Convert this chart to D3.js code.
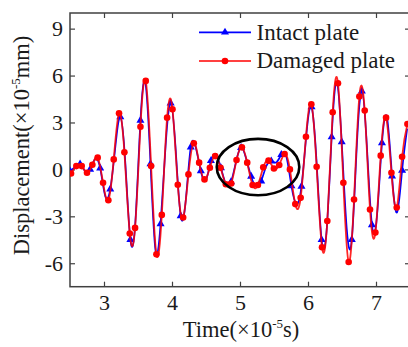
<!DOCTYPE html>
<html>
<head>
<meta charset="utf-8">
<script src="https://cdn.jsdelivr.net/npm/d3@7"></script>
<style>
  html, body { margin: 0; padding: 0; background: #fff; }
  svg { display: block; }
  text { font-family: "Liberation Serif", "Times New Roman", serif; fill: #1a1a1a; }
</style>
</head>
<body>
<svg id="chart" width="408" height="347"></svg>
<script>
// Time axis values (×10^-5 s) and tick labels
const xTicks = [3, 4, 5, 6, 7];
const yTicks = [-6, -3, 0, 3, 6, 9];

// Intact plate: sampled response, a triangle marker on every second sample
const intactTime = [2.5, 2.574, 2.648, 2.722, 2.796, 2.870, 2.944, 3.018, 3.092, 3.166,
  3.240, 3.314, 3.388, 3.462, 3.536, 3.610, 3.684, 3.758, 3.832, 3.906,
  3.980, 4.054, 4.128, 4.202, 4.276, 4.350, 4.424, 4.498, 4.572, 4.646,
  4.720, 4.794, 4.868, 4.942, 5.016, 5.090, 5.164, 5.238, 5.312, 5.386,
  5.460, 5.534, 5.608, 5.682, 5.756, 5.830, 5.904, 5.978, 6.052, 6.126,
  6.200, 6.274, 6.348, 6.422, 6.496, 6.570, 6.644, 6.718, 6.792, 6.866,
  6.940, 7.014, 7.088, 7.162, 7.236, 7.310, 7.384, 7.458];
const intactDisp = [-0.10, 0.15, 0.33, -0.10, 0.00, 0.65, 0.08, -1.70, -1.26, 1.40,
  3.35, 0.40, -4.49, -3.30, 3.13, 5.50, 0.35, -5.20, -3.48, 1.50,
  4.23, 1.30, -2.98, -2.00, 1.42, 1.40, -0.10, -0.70, 0.55, 0.90,
  0.10, -0.95, -0.80, 0.50, 1.39, 0.70, -0.45, -1.10, -0.75, 0.20,
  0.53, 0.45, 0.94, 0.80, -1.05, -2.20, -1.09, 2.30, 4.00, 0.50,
  -4.50, -3.90, 2.07, 5.60, 1.75, -3.80, -4.49, 1.50, 5.00, 1.50,
  -3.55, -3.00, 1.69, 3.30, -0.43, -2.75, -0.06, 2.60];

// Damaged plate: sampled response, a circle marker on every sample
const damagedTime = [2.515, 2.593, 2.672, 2.750, 2.829, 2.907, 2.986, 3.064, 3.143, 3.221,
  3.300, 3.379, 3.457, 3.536, 3.614, 3.693, 3.771, 3.850, 3.928, 4.007,
  4.085, 4.164, 4.242, 4.321, 4.399, 4.478, 4.557, 4.635, 4.714, 4.792,
  4.871, 4.949, 5.028, 5.106, 5.185, 5.263, 5.342, 5.420, 5.499, 5.577,
  5.656, 5.734, 5.813, 5.892, 5.970, 6.049, 6.127, 6.206, 6.284, 6.363,
  6.441, 6.520, 6.598, 6.677, 6.755, 6.834, 6.912, 6.991, 7.069, 7.148,
  7.227, 7.305, 7.384, 7.462];
const damagedDisp = [-0.26, 0.21, 0.21, -0.21, 0.30, 0.75, -0.85, -1.97, 0.64, 3.59,
  1.09, -4.10, -3.74, 2.73, 5.66, 0.21, -5.43, -2.91, 3.31, 3.85,
  -0.98, -3.08, -0.32, 1.67, 0.43, -0.64, 0.11, 0.85, 0.11, -0.95,
  -0.90, 0.60, 1.41, 0.43, -1.00, -1.00, 0.13, 0.56, 0.06, 0.28,
  0.98, 0.00, -2.22, -1.82, 2.09, 4.17, 0.17, -4.98, -3.30, 3.65,
  5.51, -0.85, -5.92, -1.92, 4.66, 3.76, -2.56, -4.04, 0.88, 3.31,
  -0.21, -2.44, 0.81, 2.90];

// Highlighted region (data units): centre time, centre displacement, half-width, half-height
const highlight = { t: 5.265, v: 0.15, dt: 0.607, dv: 1.8 };

const seriesNames = ["Intact plate", "Damaged plate"];
const blue = "#0000ff", red = "#ff0000";

const svg = d3.select("#chart");
const plotLeft = 70, plotRight = 410, plotTop = 13, plotBottom = 286.7;

const x = d3.scaleLinear().domain([2.5, 7.5]).range([plotLeft, plotRight]);
const y = d3.scaleLinear().domain([-7.5, 10]).range([plotBottom, plotTop]);

svg.append("defs").append("clipPath").attr("id", "plotClip")
  .append("rect").attr("x", plotLeft).attr("y", plotTop)
  .attr("width", plotRight - plotLeft).attr("height", plotBottom - plotTop);

const axisColor = "#404040";
function styleAxis(g, showLabels) {
  g.select(".domain").remove();
  g.selectAll(".tick line").attr("stroke", axisColor).attr("stroke-width", 1.2);
  if (!showLabels) g.selectAll(".tick text").remove();
  g.selectAll(".tick text").attr("font-size", 22)
    .attr("font-family", "Liberation Serif, serif").attr("fill", "#1a1a1a");
}
const fmt = d => d3.format("d")(d).replace("−", "-");

svg.append("g").attr("transform", `translate(0,${plotBottom})`)
  .call(d3.axisBottom(x).tickValues(xTicks).tickSize(-5).tickPadding(8).tickFormat(fmt))
  .call(g => styleAxis(g, true));
svg.append("g").attr("transform", `translate(0,${plotTop})`)
  .call(d3.axisTop(x).tickValues(xTicks).tickSize(-5))
  .call(g => styleAxis(g, false));
svg.append("g").attr("transform", `translate(${plotLeft},0)`)
  .call(d3.axisLeft(y).tickValues(yTicks).tickSize(-5).tickPadding(7).tickFormat(fmt))
  .call(g => styleAxis(g, true));
svg.append("g").attr("transform", `translate(${plotRight},0)`)
  .call(d3.axisRight(y).tickValues(yTicks).tickSize(-5))
  .call(g => styleAxis(g, false));

// Frame
svg.append("rect").attr("x", plotLeft).attr("y", plotTop)
  .attr("width", plotRight - plotLeft).attr("height", plotBottom - plotTop)
  .attr("fill", "none").attr("stroke", axisColor).attr("stroke-width", 1.5);

const plot = svg.append("g").attr("clip-path", "url(#plotClip)");
const line = d3.line().x(d => x(d[0])).y(d => y(d[1])).curve(d3.curveNatural);

const intact = intactTime.map((t, i) => [t, intactDisp[i]]);
const damaged = damagedTime.map((t, i) => [t, damagedDisp[i]]);

const tri = d3.symbol().type(d3.symbolTriangle).size(28);

plot.append("path").datum(intact).attr("d", line)
  .attr("fill", "none").attr("stroke", blue).attr("stroke-width", 1.7);
plot.selectAll(".tri").data(intact.filter((d, i) => i % 2 === 0)).join("path")
  .attr("class", "tri").attr("d", tri)
  .attr("transform", d => `translate(${x(d[0])},${y(d[1])})`)
  .attr("fill", blue);

plot.append("path").datum(damaged).attr("d", line)
  .attr("fill", "none").attr("stroke", red).attr("stroke-opacity", 0.85).attr("stroke-width", 1.8);
plot.selectAll(".dot").data(damaged).join("circle")
  .attr("class", "dot")
  .attr("cx", d => x(d[0])).attr("cy", d => y(d[1])).attr("r", 3.3)
  .attr("fill", red);

// Ellipse around the region of interest
svg.append("ellipse")
  .attr("cx", x(highlight.t)).attr("cy", y(highlight.v))
  .attr("rx", x(highlight.t + highlight.dt) - x(highlight.t))
  .attr("ry", y(highlight.v - highlight.dv) - y(highlight.v))
  .attr("fill", "none").attr("stroke", "#000").attr("stroke-width", 2.6);

// Legend
const legend = svg.append("g");
const legRows = [
  { name: seriesNames[0], color: blue, marker: "tri", yy: 32.3 },
  { name: seriesNames[1], color: red, marker: "dot", yy: 61 }
];
legRows.forEach(r => {
  legend.append("line").attr("x1", 199).attr("x2", 251).attr("y1", r.yy).attr("y2", r.yy)
    .attr("stroke", r.color).attr("stroke-width", 1.7);
  if (r.marker === "tri") {
    legend.append("path").attr("d", tri).attr("transform", `translate(225,${r.yy})`).attr("fill", r.color);
  } else {
    legend.append("circle").attr("cx", 225).attr("cy", r.yy).attr("r", 3.3).attr("fill", r.color);
  }
  legend.append("text").attr("x", 256.5).attr("y", r.yy + 7.2)
    .attr("font-size", 23).text(r.name);
});

// Axis titles
const xt = svg.append("text").attr("x", 241).attr("y", 337)
  .attr("text-anchor", "middle").attr("font-size", 22.5);
xt.append("tspan").text("Time(×10");
xt.append("tspan").attr("font-size", 13).attr("dy", -9).text("-5");
xt.append("tspan").attr("dy", 9).text("s)");

const yt = svg.append("text").attr("transform", "translate(29,145.5) rotate(-90)")
  .attr("text-anchor", "middle").attr("font-size", 22.5);
yt.append("tspan").text("Displacement(×10");
yt.append("tspan").attr("font-size", 13).attr("dy", -9).text("-5");
yt.append("tspan").attr("dy", 9).text("mm)");
</script>
</body>
</html>
